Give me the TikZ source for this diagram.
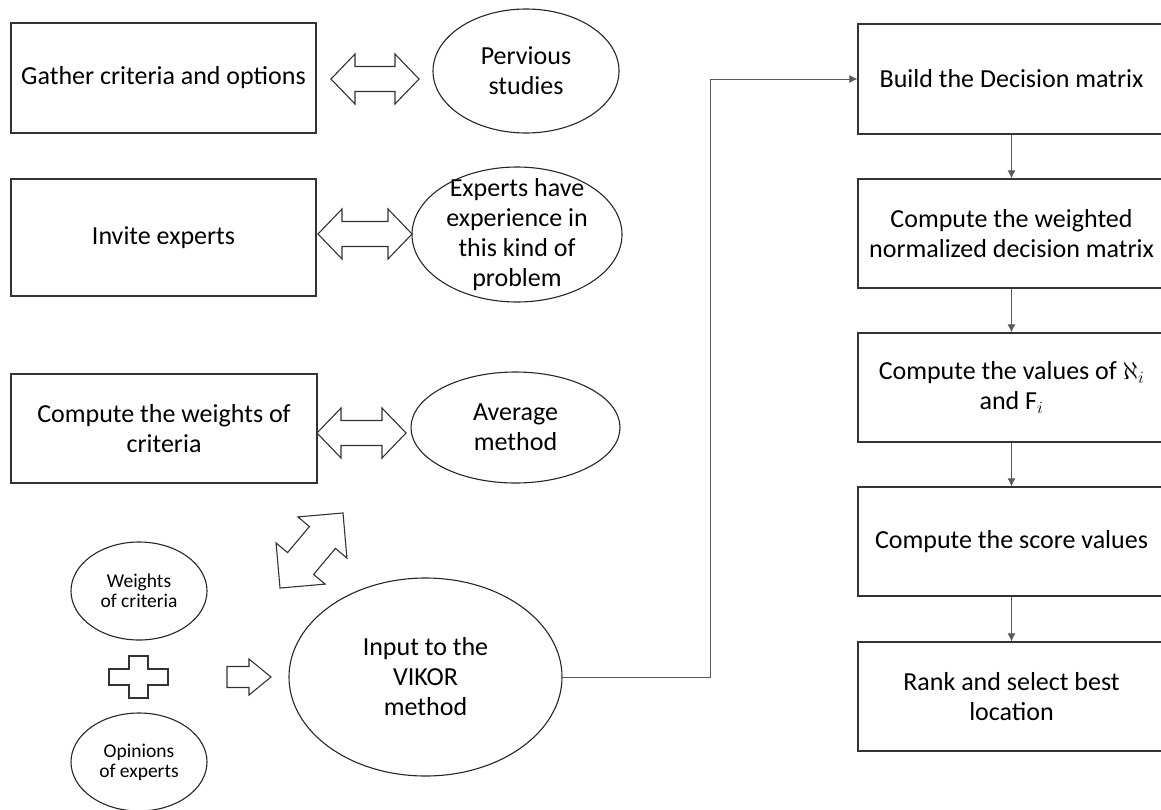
\documentclass[tikz,border=0pt]{standalone}
\usepackage{fontspec}
\setmainfont{Carlito}
\usetikzlibrary{shapes.geometric,arrows.meta}

\begin{document}
\begin{tikzpicture}[x=1pt,y=-1pt,
		procbox/.style={draw=black!80, line width=1.3pt, minimum width=305pt, minimum height=110pt, align=center, font=\fontsize{26}{30}\selectfont},
		ovalnode/.style={ellipse, draw=black!85, line width=1.1pt, inner sep=0pt, align=center, font=\fontsize{26}{30}\selectfont},
		smalltext/.style={font=\fontsize{19.5}{20}\selectfont},
		blk/.style={draw=black!80, line width=1.1pt, line join=miter},
		link/.style={black!65, line width=0.9pt},
		>={Latex[length=8pt,width=8pt]}]
	\useasboundingbox (0,0) rectangle (1161,809);
	% left column
	\node[procbox] (gather) at (163.5,78) {Gather criteria and options};
	\node[procbox, minimum height=117pt] (invite) at (163.5,237.5) {Invite experts};
	\node[procbox, minimum width=306pt, minimum height=109pt] (cweights) at (164,428.5) {Compute the weights of\\criteria};
	% ellipses
	\node[ovalnode, minimum width=186pt, minimum height=124pt] (prev) at (526,71) {Pervious\\studies};
	\node[ovalnode, minimum width=210pt, minimum height=135pt] (exper) at (517,234.5) {};
	\node[align=center, font=\fontsize{26}{30}\selectfont] (expertxt) at (exper) {Experts have\\experience in\\this kind of\\problem};
	\node[ovalnode, minimum width=209pt, minimum height=111pt] (avg) at (515.5,427.5) {Average\\method};
	\node[ovalnode, smalltext, minimum width=136pt, minimum height=98pt] (wcrit) at (139,591) {Weights\\of criteria};
	\node[ovalnode, smalltext, minimum width=136pt, minimum height=98pt] (opin) at (139,762) {Opinions\\of experts};
	\node[ovalnode, minimum width=273pt, minimum height=198pt] (vikor) at (425.5,677) {Input to the\\VIKOR\\method};
	% right column
	\node[procbox, minimum width=307pt] (build) at (1011.5,79) {Build the Decision matrix};
	\node[procbox, minimum width=307pt, minimum height=109pt] (wnorm) at (1011.5,233.5) {Compute the weighted\\normalized decision matrix};
	\node[procbox, minimum width=307pt, minimum height=109pt] (vals) at (1011.5,387.5) {Compute the values of $\aleph_i$\\and $\mathrm{F}_i$};
	\node[procbox, minimum width=307pt, minimum height=109pt] (score) at (1011.5,541.5) {Compute the score values};
	\node[procbox, minimum width=307pt, minimum height=109pt] (rank) at (1011.5,696.5) {Rank and select best\\location};
	% connectors
	\draw[link, ->] (vikor.east) -- ++(148,0) |- (build.west);
	\draw[link, ->] (build) -- (wnorm);
	\draw[link, ->] (wnorm) -- (vals);
	\draw[link, ->] (vals) -- (score);
	\draw[link, ->] (score) -- (rank);
	% block arrows
	\foreach \xl/\xr/\yc in {331/419/79, 318/412/234, 317/406/433}
		\draw[blk] (\xl,\yc) -- (\xl+24,\yc-25) -- (\xl+24,\yc-12.5) -- (\xr-24,\yc-12.5) -- (\xr-24,\yc-25) -- (\xr,\yc) -- (\xr-24,\yc+25) -- (\xr-24,\yc+12.5) -- (\xl+24,\yc+12.5) -- (\xl+24,\yc+25) -- cycle;
	\begin{scope}[shift={(311.5,550.5)}, rotate=50]
		\draw[blk] (-49,0) -- (-17,-32) -- (-17,-17) -- (17,-17) -- (17,-32) -- (49,0) -- (17,32) -- (17,17) -- (-17,17) -- (-17,32) -- cycle;
	\end{scope}
	\draw[blk] (227,666.5) -- (249,666.5) -- (249,659) -- (271,677) -- (249,695) -- (249,687.5) -- (227,687.5) -- cycle;
	% plus
	\draw[blk] (129,656) -- (148,656) -- (148,669) -- (168,669) -- (168,685) -- (148,685) -- (148,698) -- (129,698) -- (129,685) -- (109,685) -- (109,669) -- (129,669) -- cycle;
\end{tikzpicture}
\end{document}
